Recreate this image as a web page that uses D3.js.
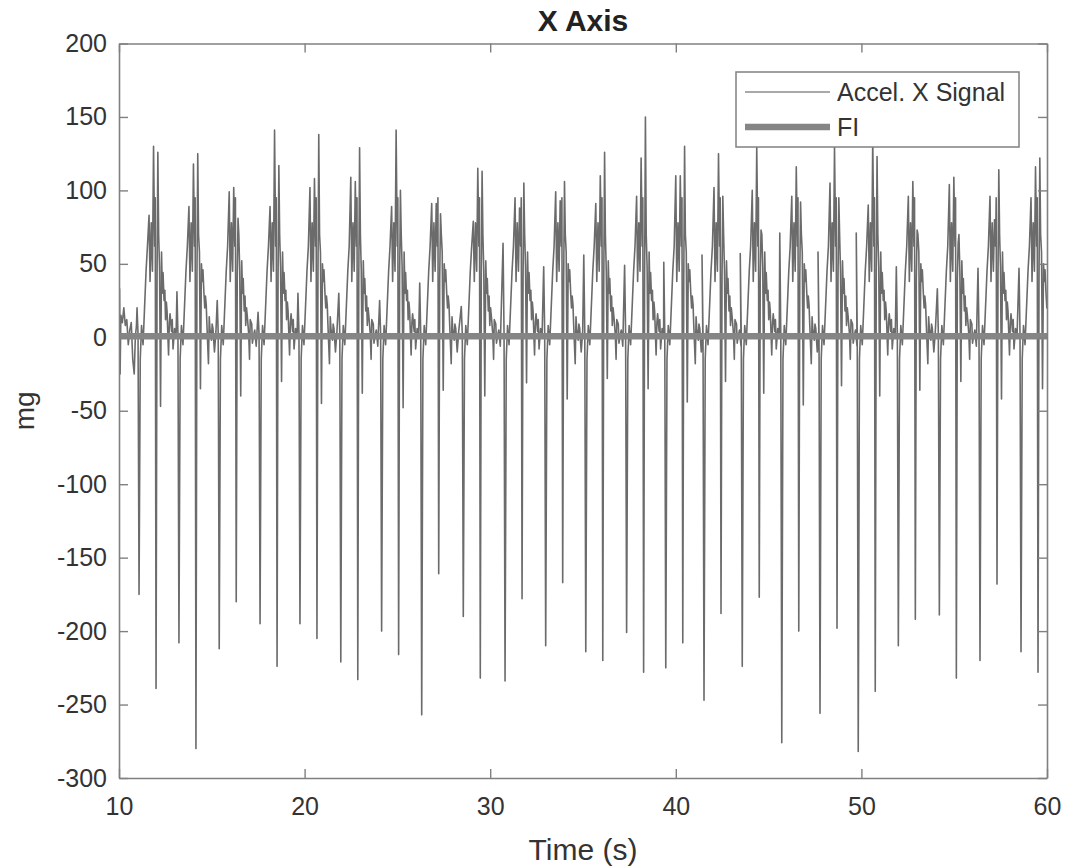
<!DOCTYPE html>
<html>
<head>
<meta charset="utf-8">
<script src="https://cdn.jsdelivr.net/npm/d3@7"></script>
<style>
  body { margin: 0; background: #fff; }
  text { font-family: "Liberation Sans", Arial, sans-serif; fill: #333; }
</style>
</head>
<body>
<svg id="chart" width="1066" height="868"></svg>
<script>
// time of the first (shorter) negative spike in each gait cycle, seconds
let cycleStart = [11.08, 13.23, 15.40, 17.60, 19.75, 21.95, 24.15, 26.31, 28.55, 30.80, 32.99, 35.15,
                  37.35, 39.46, 41.52, 43.58, 45.71, 47.77, 49.83, 51.99, 54.20, 56.39, 58.60];
let preSpike  = [20, 31, 25, 17, 30, 30, 25, 37, 21, 64, 48, 56, 49, 51, 56, 57, 71, 58, 71, 48, 33, 47, 47];
let troughA   = [-175, -208, -212, -195, -195, -221, -200, -257, -190, -234, -210, -214,
                 -201, -225, -247, -224, -276, -256, -282, -210, -189, -220, -214];
let shoulder  = [83, 89, 99, 89, 102, 109, 89, 91, 79, 95, 99, 91, 96, 110, 102, 100, 96, 105, 90, 96, 104, 96, 95];
let peak1     = [130, 118, 102, 141, 108, 106, 141, 91, 115, 88, 93, 110, 122, 110, 125, 130, 116, 130, 135, 106, 109, 80, 116];
let troughB   = [-239, -280, -180, -224, -205, -233, -216, -161, -232, -178, -167, -220,
                 -228, -208, -188, -177, -200, -198, -241, -192, -232, -168, -228];
let peak2     = [126, 125, 81, 117, 138, 129, 100, 84, 113, 105, 106, 126, 150, 130, 96, 73, 92, 95, 123, 73, 64, 114, 122];
let afterDip  = [-47, -35, -40, -30, -45, -38, -48, -36, -40, -31, -42, -28, -35, -44, -30, -38, -46, -33, -40, -36, -30, -42, -35];

// recording before the first cycle
let leadT = [10.00, 10.03, 10.06, 10.10, 10.18, 10.26, 10.34, 10.42, 10.50, 10.58, 10.66, 10.74, 10.82, 10.88, 10.94];
let leadV = [5, 33, -25, 15, 10, 20, 8, 12, -5, 5, 10, -15, -25, 0, 8];

// offsets in px after the first spike (18.56 px per second), with the common values
let riseOff = [-1.0, 1.2, 2.5, 4.0, 5.5, 7.0, 8.4];
let riseV   = [2, -15, 8, -5, 20, 45, 62];
let midOff  = [11.0, 12.2, 13.4];          // between shoulder and first peak
let midV    = [38, 78, 45];
let tailOff = [20.5, 22.5, 23.3, 24.0, 25.0, 25.8, 26.5, 27.3, 28.0, 29.5, 30.3, 31.0, 32.5, 33.2, 34.0, 35.5, 37.0];
let tailV = [
  [48, 58, 30, 44, 25, 32, 12, 24, 18, -12, 10, 16, 4, 12, -8, 6, 0],
  [58, 50, 38, 46, 30, 20, 28, 22, 8, -18, 14, 6, -2, 9, 6, -10, 4],
  [45, 52, 30, 40, 18, 28, 8, 20, 15, 2, -15, 12, 9, -4, 0, 5, -6]
];

// FI reference line
let fiT = [10, 60];
let fiV = [0.8, 0.8];

let xTicks = [10, 20, 30, 40, 50, 60];
let yTicks = [-300, -250, -200, -150, -100, -50, 0, 50, 100, 150, 200];

const pxPerSec = 18.56;
let signal = leadT.map((t, i) => [t, leadV[i]]);
cycleStart.forEach((t0, c) => {
  let at = off => t0 + off / pxPerSec;
  signal.push([at(-2.0), preSpike[c]]);
  signal.push([at(-1.0), riseV[0]]);
  signal.push([at(0), troughA[c]]);
  riseOff.slice(1).forEach((o, k) => signal.push([at(o), riseV[k + 1]]));
  signal.push([at(10.0), shoulder[c]]);
  midOff.forEach((o, k) => signal.push([at(o), midV[k]]));
  signal.push([at(14.5), peak1[c]]);
  signal.push([at(15.6), 62]);
  signal.push([at(16.2), 95]);
  signal.push([at(17.0), troughB[c]]);
  signal.push([at(18.0), 40]);
  signal.push([at(18.8), peak2[c]]);
  signal.push([at(19.6), 70]);
  let tv = tailV[c % 3];
  signal.push([at(tailOff[0]), tv[0]]);
  signal.push([at(21.5), afterDip[c]]);
  tailOff.slice(1).forEach((o, k) => signal.push([at(o), tv[k + 1]]));
});
signal = signal.filter(d => d[0] <= 60);
signal.push([60, 20]);

const svg = d3.select("#chart");
const pLeft = 119, pRight = 1047, pTop = 43.5, pBottom = 778;

let x = d3.scaleLinear().domain([10, 60]).range([pLeft, pRight]);
let y = d3.scaleLinear().domain([-300, 200]).range([pBottom, pTop]);

svg.append("defs").append("clipPath").attr("id", "plotclip")
  .append("rect")
  .attr("x", pLeft).attr("y", pTop)
  .attr("width", pRight - pLeft).attr("height", pBottom - pTop);

let plot = svg.append("g").attr("clip-path", "url(#plotclip)");

let line = d3.line().x(d => x(d[0])).y(d => y(d[1]));

plot.append("path")
  .datum(signal)
  .attr("fill", "none")
  .attr("stroke", "#6b6b6b")
  .attr("stroke-width", 1.6)
  .attr("stroke-linejoin", "round")
  .attr("d", line);

plot.append("path")
  .datum(fiT.map((t, i) => [t, fiV[i]]))
  .attr("fill", "none")
  .attr("stroke", "#858585")
  .attr("stroke-width", 6.5)
  .attr("d", line);

// axes, MATLAB style: ticks inside, box all round, plain hyphen for negatives
let axisCol = "#808080";
let fmt = d => String(d);
let gx = svg.append("g").attr("transform", `translate(0,${pBottom})`)
  .call(d3.axisBottom(x).tickValues(xTicks).tickFormat(fmt).tickSizeInner(-9).tickSizeOuter(0).tickPadding(19));
let gxTop = svg.append("g").attr("transform", `translate(0,${pTop})`)
  .call(d3.axisTop(x).tickValues(xTicks).tickSizeInner(-9).tickSizeOuter(0).tickFormat(""));
let gy = svg.append("g").attr("transform", `translate(${pLeft},0)`)
  .call(d3.axisLeft(y).tickValues(yTicks).tickFormat(fmt).tickSizeInner(-9).tickSizeOuter(0).tickPadding(12));
let gyRight = svg.append("g").attr("transform", `translate(${pRight},0)`)
  .call(d3.axisRight(y).tickValues(yTicks).tickSizeInner(-9).tickSizeOuter(0).tickFormat(""));

[gx, gxTop, gy, gyRight].forEach(g => {
  g.select(".domain").attr("stroke", axisCol).attr("stroke-width", 1.6);
  g.selectAll(".tick line").attr("stroke", axisCol).attr("stroke-width", 1.4);
  g.selectAll(".tick text")
    .attr("font-family", "'Liberation Sans', Arial, sans-serif")
    .attr("font-size", 25)
    .attr("fill", "#333");
});

svg.append("text")
  .attr("x", (pLeft + pRight) / 2).attr("y", 860)
  .attr("text-anchor", "middle")
  .attr("font-size", 30)
  .text("Time (s)");

svg.append("text")
  .attr("transform", `translate(34,${(pTop + pBottom) / 2}) rotate(-90)`)
  .attr("text-anchor", "middle")
  .attr("font-size", 28)
  .text("mg");

svg.append("text")
  .attr("x", (pLeft + pRight) / 2).attr("y", 31)
  .attr("text-anchor", "middle")
  .attr("font-size", 30)
  .attr("font-weight", "bold")
  .style("fill", "#222")
  .text("X Axis");

// legend
let lg = svg.append("g");
lg.append("rect")
  .attr("x", 736).attr("y", 72)
  .attr("width", 283).attr("height", 75)
  .attr("fill", "#fff")
  .attr("stroke", axisCol).attr("stroke-width", 1.5);
lg.append("line").attr("x1", 745).attr("x2", 830).attr("y1", 92).attr("y2", 92)
  .attr("stroke", "#8c8c8c").attr("stroke-width", 1.4);
lg.append("line").attr("x1", 745).attr("x2", 830).attr("y1", 127).attr("y2", 127)
  .attr("stroke", "#858585").attr("stroke-width", 6.5);
lg.append("text").attr("x", 837).attr("y", 101).attr("font-size", 25).text("Accel. X Signal");
lg.append("text").attr("x", 837).attr("y", 136).attr("font-size", 25).text("FI");
</script>
</body>
</html>
